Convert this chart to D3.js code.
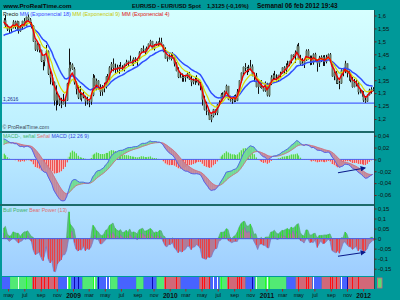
<!DOCTYPE html>
<html><head><meta charset="utf-8">
<script src="https://cdn.jsdelivr.net/npm/d3@7"></script>
<style>body{margin:0;background:#009999;}svg{display:block;font-family:Arial,"Liberation Sans",sans-serif;}</style>
</head><body><svg id="c" width="400" height="300"></svg>
<script>
// ---------- DATA ----------
const firstWeek = new Date(2008, 3, 14); // weekly bars (Mondays)
const warmupCloses = [1.443,1.439,1.457,1.475,1.478,1.465,1.468,1.483,1.450,1.468,1.483,1.520,1.535,1.566,1.560,1.579,1.580,1.575];
const closes = [
1.5810,1.5605,1.5460,1.5485,1.5530,1.5760,1.5560,1.5770,1.5395,1.5550,1.5790,1.5600,1.5950,1.5850,1.5680,1.5600,1.5000,1.4680,1.4880,1.4670,1.4240,1.4230,1.4490,1.4620,1.3750,1.3600,1.3420,1.2710,1.2950,1.2750,1.2590,1.2580,1.2680,1.2720,1.3370,1.3970,1.4100,1.3930,
1.3410,1.3160,1.2830,1.2800,1.2940,1.2860,1.2680,1.2670,1.2665,1.2920,1.3590,1.3280,1.3480,1.3190,1.3050,1.3260,1.3280,1.3640,1.3520,1.3990,1.4130,1.3980,1.3990,1.3920,1.4030,1.3960,1.3930,1.4110,1.4200,1.4250,1.4190,1.4190,1.4330,1.4310,1.4340,1.4570,1.4720,1.4680,1.4580,1.4720,1.4910,1.5010,1.4710,1.4880,1.4950,1.4860,1.4980,1.4850,1.4620,1.4340,1.4380,1.4320,
1.4410,1.4390,1.4140,1.3860,1.3620,1.3630,1.3610,1.3620,1.3630,1.3750,1.3530,1.3420,1.3480,1.3500,1.3520,1.3380,1.3290,1.2750,1.2360,1.2350,1.2270,1.1970,1.2110,1.2370,1.2230,1.2560,1.2640,1.2940,1.2900,1.3060,1.3280,1.2750,1.2710,1.2720,1.2890,1.2710,1.3060,1.3490,1.3790,1.4010,1.3970,1.3950,1.3950,1.4030,1.3670,1.3670,1.3240,1.3400,1.3240,1.3200,1.3100,1.3380,
1.2910,1.3380,1.3610,1.3690,1.3580,1.3530,1.3700,1.3750,1.3990,1.3900,1.4030,1.4090,1.4240,1.4480,1.4430,1.4570,1.4810,1.4310,1.4130,1.4160,1.4260,1.4640,1.4360,1.4320,1.4180,1.4500,1.4260,1.4150,1.4370,1.4400,1.4280,1.4210,1.4390,1.4500,1.4210,1.3650,1.3790,1.3500,1.3390,1.3380,1.3880,1.3900,1.4150,1.3770,1.3750,1.3520,1.3240,1.3400,1.3370,1.3040,1.3060,1.2960,
1.2720,1.2680,1.2930,1.3130,1.3150,1.3125];
const highs = [
1.5900,1.6018,1.5650,1.5550,1.5580,1.5820,1.5800,1.5800,1.5780,1.5630,1.5800,1.5900,1.5960,1.6038,1.5900,1.5750,1.5620,1.5030,1.4930,1.4900,1.4680,1.4280,1.4500,1.4860,1.4650,1.3870,1.3710,1.3450,1.3300,1.3000,1.2900,1.2820,1.2970,1.2800,1.3400,1.4720,1.4200,1.4150,
1.4000,1.3450,1.3300,1.3270,1.3000,1.3050,1.2900,1.2860,1.2720,1.3000,1.3738,1.3690,1.3560,1.3500,1.3340,1.3310,1.3400,1.3660,1.3740,1.4040,1.4200,1.4340,1.4140,1.4100,1.4090,1.4200,1.4080,1.4140,1.4290,1.4250,1.4450,1.4290,1.4380,1.4390,1.4350,1.4620,1.4740,1.4840,1.4720,1.4800,1.4920,1.5060,1.5020,1.4900,1.5000,1.5000,1.5144,1.5140,1.4880,1.4770,1.4420,1.4500,
1.4510,1.4580,1.4450,1.4190,1.4000,1.3790,1.3760,1.3680,1.3710,1.3790,1.3820,1.3680,1.3560,1.3620,1.3690,1.3530,1.3440,1.3300,1.2900,1.2670,1.2430,1.2350,1.2170,1.2390,1.2370,1.2580,1.2720,1.3000,1.3030,1.3100,1.3330,1.3280,1.2900,1.2780,1.2920,1.2950,1.3160,1.3500,1.3800,1.4030,1.4160,1.4020,1.4090,1.4282,1.4110,1.3790,1.3780,1.3440,1.3460,1.3500,1.3250,1.3450,
1.3400,1.3400,1.3690,1.3760,1.3860,1.3730,1.3710,1.3830,1.4000,1.4040,1.4150,1.4250,1.4250,1.4490,1.4500,1.4650,1.4880,1.4940,1.4480,1.4350,1.4320,1.4690,1.4700,1.4450,1.4450,1.4540,1.4560,1.4290,1.4440,1.4460,1.4460,1.4470,1.4480,1.4530,1.4550,1.4230,1.3880,1.3850,1.3660,1.3470,1.3920,1.3920,1.4250,1.4150,1.3870,1.3790,1.3620,1.3550,1.3530,1.3430,1.3120,1.3100,
1.3080,1.2880,1.2950,1.3170,1.3230,1.3230];
const lows = [
1.5650,1.5540,1.5400,1.5285,1.5370,1.5500,1.5480,1.5400,1.5300,1.5370,1.5450,1.5580,1.5580,1.5800,1.5620,1.5500,1.4980,1.4630,1.4600,1.4570,1.4200,1.3880,1.4040,1.4470,1.3700,1.3340,1.3300,1.2520,1.2330,1.2540,1.2500,1.2420,1.2560,1.2470,1.2700,1.3350,1.3840,1.3900,
1.3330,1.2950,1.2770,1.2750,1.2680,1.2800,1.2510,1.2560,1.2457,1.2550,1.2880,1.3270,1.3110,1.3140,1.2890,1.2900,1.3030,1.3180,1.3490,1.3460,1.3800,1.3840,1.3740,1.3780,1.3750,1.3940,1.3850,1.3840,1.4050,1.4030,1.4180,1.4070,1.4050,1.4200,1.4050,1.4300,1.4540,1.4580,1.4480,1.4580,1.4700,1.4870,1.4690,1.4650,1.4830,1.4820,1.4840,1.4840,1.4580,1.4330,1.4220,1.4300,
1.4260,1.4340,1.4030,1.3840,1.3580,1.3580,1.3440,1.3440,1.3440,1.3570,1.3510,1.3270,1.3340,1.3320,1.3410,1.3300,1.3110,1.2520,1.2330,1.2150,1.2140,1.1960,1.1876,1.2060,1.2150,1.2150,1.2510,1.2600,1.2790,1.2850,1.3030,1.2730,1.2670,1.2590,1.2650,1.2660,1.2690,1.3010,1.3410,1.3680,1.3850,1.3700,1.3810,1.3880,1.3650,1.3440,1.3220,1.2970,1.3200,1.3170,1.3060,1.3050,
1.2870,1.2860,1.3310,1.3520,1.3540,1.3430,1.3440,1.3590,1.3750,1.3760,1.3750,1.4000,1.4040,1.4150,1.4380,1.4170,1.4530,1.4300,1.4090,1.4050,1.3970,1.4240,1.4300,1.4080,1.4090,1.4100,1.4240,1.3830,1.4010,1.4200,1.4050,1.4050,1.4150,1.4300,1.4190,1.3630,1.3500,1.3360,1.3350,1.3150,1.3360,1.3650,1.3770,1.3610,1.3480,1.3420,1.3210,1.3220,1.3260,1.2950,1.2990,1.2860,
1.2660,1.2624,1.2660,1.2910,1.2980,1.3070];
const supportLevel = 1.2616;
const priceTicks = [1.6,1.55,1.5,1.45,1.4,1.35,1.3,1.25,1.2];
const macdTicks = [0.04,0.02,0,-0.02,-0.04,-0.06];
const powerTicks = [0.15,0.1,0.05,0,-0.05,-0.1,-0.15];
const monthNames = ['ene','feb','mar','abr','may','jun','jul','ago','sep','oct','nov','dic'];
// colour-strip segments (week index where each starts, and state)
const stripStart = [0,4,16,30,35,37,43,51,58,62,72,76,83,87,96,106,112,117,121,131,136,153,158,167,172,182,186];
const stripState = ['B','G','R','B','G','B','G','B','G','B','G','B','G','R','B','R','B','G','R','B','G','B','R','B','R','B','R'];

// ---------- DERIVED ----------
const nW = warmupCloses.length, n = closes.length;
const allC = warmupCloses.concat(closes);
function ema(a, p){const k=2/(p+1);let e=a[0];return a.map((v,i)=>(e=i?v*k+e*(1-k):v));}
const ema18 = ema(allC,18).slice(nW), ema9 = ema(allC,9).slice(nW), ema4 = ema(allC,4).slice(nW);
const e12 = ema(allC,12), e26 = ema(allC,26);
const macdAll = e12.map((v,i)=>v-e26[i]);
const sigAll = ema(macdAll,9);
const macd = macdAll.slice(nW), signal = sigAll.slice(nW);
const hist = macd.map((v,i)=>v-signal[i]);
const e13 = ema(allC,13).slice(nW);
const bull = highs.map((h,i)=>h-e13[i]);
const bear = lows.map((l,i)=>l-e13[i]);
const opens = closes.map((c,i)=>i?closes[i-1]:warmupCloses[nW-1]);
const dates = closes.map((c,i)=>d3.timeDay.offset(firstWeek,7*i));
const idx = d3.range(n);

// ---------- LAYOUT ----------
const svg = d3.select('#c');
const defs = svg.append('defs');
const X0 = 2, X1 = 374;
const P = [10,131], M = [133,204], B = [206,276], S = [277,289];
function grad(id,c1,c2){const g=defs.append('linearGradient').attr('id',id).attr('x1',0).attr('y1',0).attr('x2',0).attr('y2',1);
  g.append('stop').attr('offset','0%').attr('stop-color',c1);g.append('stop').attr('offset','100%').attr('stop-color',c2);}
grad('gP','#d6ffff','#bdefff');grad('gM','#bfefff','#aadcff');grad('gB','#b2e2ff','#9ecdff');
function clip(id,r){defs.append('clipPath').attr('id',id).append('rect').attr('x',X0).attr('y',r[0]).attr('width',X1-X0).attr('height',r[1]-r[0]);}
clip('cP',P);clip('cM',M);clip('cB',B);clip('cS',S);

svg.append('rect').attr('width',400).attr('height',300).attr('fill','#009999');
svg.append('rect').attr('x',X0).attr('y',P[0]).attr('width',X1-X0).attr('height',P[1]-P[0]).attr('fill','url(#gP)');
svg.append('rect').attr('x',X0).attr('y',M[0]).attr('width',X1-X0).attr('height',M[1]-M[0]).attr('fill','url(#gM)');
svg.append('rect').attr('x',X0).attr('y',B[0]).attr('width',X1-X0).attr('height',B[1]-B[0]).attr('fill','url(#gB)');
[[P[1],M[0]],[M[1],B[0]]].forEach(s=>svg.append('rect').attr('x',0).attr('y',s[0]).attr('width',X1).attr('height',s[1]-s[0]).attr('fill','#1d6b6b'));

// scales
const xS = d3.scaleTime().domain([new Date(2008,3,8), new Date(2012,1,11)]).range([X0,X1]);
const xi = i => xS(dates[i]);
const yP = d3.scaleLinear().domain([1.2,1.6]).range([119,15.5]);
const yM = d3.scaleLinear().domain([-0.06,0.04]).range([195,135.7]);
const yB = d3.scaleLinear().domain([-0.15,0.15]).range([268.7,208.5]);
const fmt = v => (Math.round(v*100)/100).toString().replace('.',',');

// ---------- PRICE PANEL ----------
const gP = svg.append('g').attr('clip-path','url(#cP)');
gP.append('line').attr('x1',X0).attr('x2',X1).attr('y1',yP(supportLevel)).attr('y2',yP(supportLevel)).attr('stroke','#4a63ff').attr('stroke-width',1.2);
gP.selectAll('line.wk').data(idx).join('line').attr('class','wk')
  .attr('x1',i=>Math.round(xi(i))+0.5).attr('x2',i=>Math.round(xi(i))+0.5)
  .attr('y1',i=>yP(highs[i])).attr('y2',i=>yP(lows[i])).attr('stroke','#111').attr('stroke-width',1);
gP.selectAll('rect.bd').data(idx).join('rect').attr('class','bd')
  .attr('x',i=>Math.round(xi(i))-0.5).attr('width',2)
  .attr('y',i=>yP(Math.max(opens[i],closes[i])))
  .attr('height',i=>Math.max(1,yP(Math.min(opens[i],closes[i]))-yP(Math.max(opens[i],closes[i]))))
  .attr('fill','#667766');
const lineP = arr => d3.line().x((d,i)=>xi(i)).y(d=>yP(d))(arr);
gP.append('path').attr('d',lineP(ema18)).attr('fill','none').attr('stroke','#2f4dff').attr('stroke-width',1.5);
gP.append('path').attr('d',lineP(ema9)).attr('fill','none').attr('stroke','#dcdc00').attr('stroke-width',1.2);
gP.append('path').attr('d',lineP(ema4)).attr('fill','none').attr('stroke','#f00000').attr('stroke-width',1.4);
svg.append('text').attr('x',3).attr('y',100.6).attr('font-size',5).attr('fill','#1a2f8f').text('1,2616');
svg.append('text').attr('x',2.5).attr('y',129).attr('font-size',5.2).attr('fill','#3b4a55').text('© ProRealTime.com');
const leg = svg.append('text').attr('x',3).attr('y',16.3).attr('font-size',5.4);
leg.append('tspan').attr('fill','#111').text('Precio ');
leg.append('tspan').attr('fill','#3344ff').text('MM (Exponencial 18) ');
leg.append('tspan').attr('fill','#c8c800').text('MM (Exponencial 9) ');
leg.append('tspan').attr('fill','#e01010').text('MM (Exponencial 4)');

// ---------- MACD PANEL ----------
const gM = svg.append('g').attr('clip-path','url(#cM)');
gM.append('path').attr('d',d3.area().curve(d3.curveStepAfter).x((d,i)=>xi(i)-0.9).y0(yM(0)).y1(d=>yM(Math.max(0,d)))(hist)).attr('fill','#a8eaa8');
gM.append('path').attr('d',d3.area().curve(d3.curveStepAfter).x((d,i)=>xi(i)-0.9).y0(yM(0)).y1(d=>yM(Math.min(0,d)))(hist)).attr('fill','#f2b4b4');
gM.selectAll('line.h').data(idx).join('line').attr('class','h')
  .attr('x1',i=>Math.round(xi(i))+0.5).attr('x2',i=>Math.round(xi(i))+0.5)
  .attr('y1',yM(0)).attr('y2',i=>yM(hist[i]))
  .attr('stroke',i=>hist[i]>=0?'#3ccf3c':'#f03a3a').attr('stroke-width',0.8);
gM.append('line').attr('x1',X0).attr('x2',X1).attr('y1',yM(0)).attr('y2',yM(0)).attr('stroke','#5060ee').attr('stroke-width',1);
gM.selectAll('path.seg').data(idx.slice(0,n-1)).join('path').attr('class','seg')
  .attr('d',i=>`M${xi(i)},${yM(macd[i])}L${xi(i+1)},${yM(macd[i+1])}L${xi(i+1)},${yM(signal[i+1])}L${xi(i)},${yM(signal[i])}Z`)
  .attr('fill',i=>(macd[i]+macd[i+1])>=(signal[i]+signal[i+1])?'#72dc94':'#c48a9c')
  .attr('stroke',i=>(macd[i]+macd[i+1])>=(signal[i]+signal[i+1])?'#72dc94':'#c48a9c').attr('stroke-width',0.4);
const lineM = arr => d3.line().x((d,i)=>xi(i)).y(d=>yM(d))(arr);
gM.append('path').attr('d',lineM(signal)).attr('fill','none').attr('stroke','#d07080').attr('stroke-width',0.9);
gM.append('path').attr('d',lineM(macd)).attr('fill','none').attr('stroke','#4a5cf0').attr('stroke-width',0.9);
const legM = svg.append('text').attr('x',3).attr('y',138).attr('font-size',5.2);
legM.append('tspan').attr('fill','#3fb36a').text('MACD-, señal ');
legM.append('tspan').attr('fill','#e07070').text('Señal ');
legM.append('tspan').attr('fill','#3344dd').text('MACD (12 26 9)');

// ---------- BULL / BEAR POWER ----------
const gB = svg.append('g').attr('clip-path','url(#cB)');
gB.append('path').attr('d',d3.area().x((d,i)=>xi(i)).y0(yB(0)).y1(d=>yB(d))(bull)).attr('fill','#5cbc7e').attr('stroke','#4aa86a').attr('stroke-width',0.6);
gB.append('path').attr('d',d3.area().x((d,i)=>xi(i)).y0(yB(0)).y1(d=>yB(d))(bear)).attr('fill','#b07c98').attr('stroke','#7474c8').attr('stroke-width',0.7);
gB.selectAll('line.bu').data(idx.filter(i=>closes[i]>opens[i]&&bull[i]>0)).join('line').attr('class','bu')
  .attr('x1',i=>Math.round(xi(i))+0.5).attr('x2',i=>Math.round(xi(i))+0.5)
  .attr('y1',yB(0)).attr('y2',i=>yB(bull[i])).attr('stroke','#30dd30').attr('stroke-width',0.9);
gB.selectAll('line.be').data(idx.filter(i=>closes[i]<opens[i]&&bear[i]<0)).join('line').attr('class','be')
  .attr('x1',i=>Math.round(xi(i))+0.5).attr('x2',i=>Math.round(xi(i))+0.5)
  .attr('y1',yB(0)).attr('y2',i=>yB(bear[i])).attr('stroke','#f23a3a').attr('stroke-width',0.9);
gB.append('line').attr('x1',X0).attr('x2',X1).attr('y1',yB(0)).attr('y2',yB(0)).attr('stroke','#5060e0').attr('stroke-width',1);
const legB = svg.append('text').attr('x',3).attr('y',212).attr('font-size',5.2);
legB.append('tspan').attr('fill','#3fb36a').text('Bull Power ');
legB.append('tspan').attr('fill','#e07070').text('Bear Power (13)');

// arrows
const mk = defs.append('marker').attr('id','ah').attr('viewBox','0 0 10 10').attr('refX',8).attr('refY',5)
  .attr('markerWidth',5).attr('markerHeight',5).attr('orient','auto');
mk.append('path').attr('d','M0,0L10,5L0,10Z').attr('fill','#0a1a8a');
[[338,172.7,365,168],[338,256.3,365,252.2]].forEach(a=>svg.append('line').attr('x1',a[0]).attr('y1',a[1]).attr('x2',a[2]).attr('y2',a[3])
  .attr('stroke','#0a1a8a').attr('stroke-width',1.1).attr('marker-end','url(#ah)'));

// ---------- COLOUR STRIP ----------
const colS = {B:'#4763ff',G:'#52ea74',R:'#d26878'};
const gS = svg.append('g').attr('clip-path','url(#cS)');
gS.selectAll('rect.st').data(stripStart).join('rect').attr('class','st')
  .attr('x',(s,k)=>k?xi(s)-0.93:X0)
  .attr('width',(s,k)=>{const e=k<stripStart.length-1?xi(stripStart[k+1])-0.93:X1;return e-(k?xi(s)-0.93:X0);})
  .attr('y',S[0]).attr('height',S[1]-S[0]).attr('fill',(s,k)=>colS[stripState[k]]);
const stateAt = i => stripState[d3.bisectRight(stripStart,i)-1];
gS.selectAll('line.sm').data(idx.filter(i=>Math.abs(closes[i]-opens[i])>0.026)).join('line').attr('class','sm')
  .attr('x1',i=>Math.round(xi(i))+0.5).attr('x2',i=>Math.round(xi(i))+0.5).attr('y1',S[0]).attr('y2',S[1])
  .attr('stroke',i=>{const s=stateAt(i);return s==='R'?'#ff1010':s==='G'?(closes[i]>opens[i]?'#20ff20':'#e8fff0'):(closes[i]>opens[i]?'#ffffff':'#0a0ab0');})
  .attr('stroke-width',1);
svg.append('rect').attr('x',377.5).attr('y',278).attr('width',4.5).attr('height',10).attr('fill','#55e070').attr('stroke','#d86080').attr('stroke-width',0.8);

// ---------- AXES ----------
svg.append('line').attr('x1',X1+0.5).attr('x2',X1+0.5).attr('y1',P[0]).attr('y2',S[1]).attr('stroke','#1b4f4f').attr('stroke-width',1);
function yAxis(scale,ticks){
  const g = svg.append('g').attr('transform',`translate(${X1+0.5},0)`)
    .call(d3.axisRight(scale).tickValues(ticks).tickSize(2).tickPadding(1.5).tickFormat(fmt));
  g.select('.domain').remove();
  g.selectAll('line').attr('stroke','#7a1a1a');
  g.selectAll('text').attr('font-size',5.8).attr('fill','#111').attr('font-family','Arial, Liberation Sans, sans-serif');
}
yAxis(yP,priceTicks);yAxis(yM,macdTicks);yAxis(yB,powerTicks);
const xa = svg.append('g').attr('transform',`translate(0,${S[1]})`)
  .call(d3.axisBottom(xS).ticks(d3.timeMonth.every(2)).tickSize(2.5).tickPadding(1.5)
    .tickFormat(d=>d.getMonth()===0?String(d.getFullYear()):monthNames[d.getMonth()]));
xa.select('.domain').remove();
xa.selectAll('line').attr('stroke','#b02020');
xa.selectAll('text').attr('font-family','Arial, Liberation Sans, sans-serif').attr('fill','#111')
  .attr('font-size',d=>d.getMonth()===0?6.6:5.4).attr('font-weight',d=>d.getMonth()===0?'bold':'normal');

// ---------- TITLE ----------
const tt = (x,t,fs) => svg.append('text').attr('x',x).attr('y',7.8).attr('font-size',fs).attr('font-weight','bold')
  .attr('fill','#0a0a0a').text(t);
tt(3.5,'www.ProRealTime.com',6.2);
tt(132,'EURUSD - EUR/USD Spot',5.7);
tt(207,'1,3125 (-0,16%)',5.8);
tt(257,'Semanal  06 feb 2012 19:43',6.4);
</script></body></html>
